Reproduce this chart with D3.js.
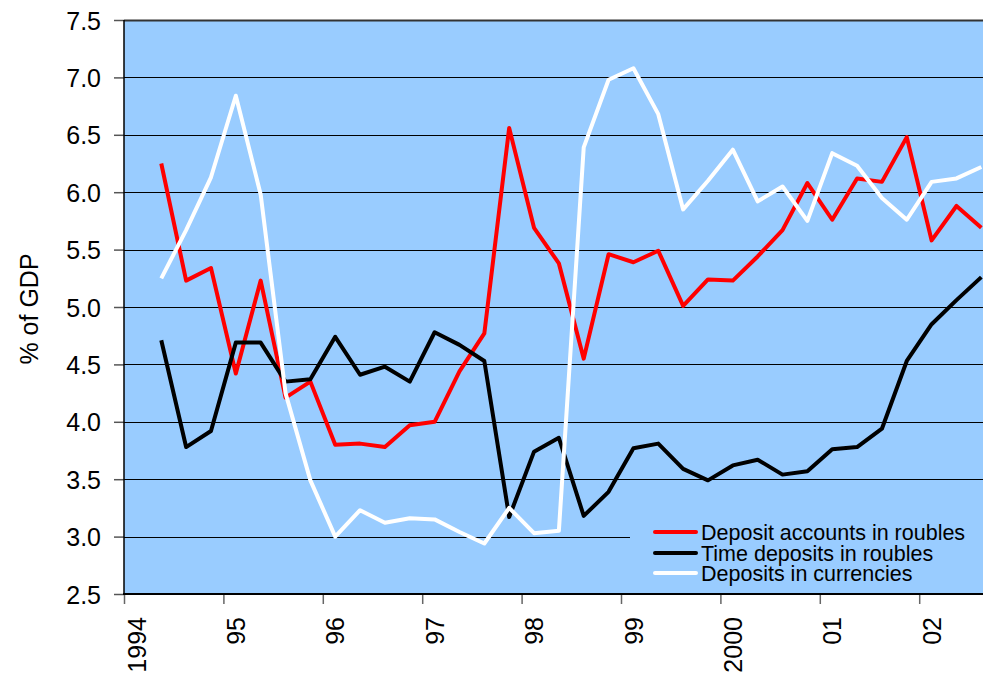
<!DOCTYPE html>
<html><head><meta charset="utf-8">
<script src="https://cdn.jsdelivr.net/npm/d3@7"></script>
<style>
body{margin:0;background:#fff}
svg{display:block}
text{font-family:"Liberation Sans",Arial,Helvetica,sans-serif;fill:#000}
</style></head><body>
<svg id="c" width="983" height="675"></svg>
<script>
// ---- data (quarterly, category index 1..34) ----
const yearLabels = ["1994","95","96","97","98","99","2000","01","02"];
const yTicks = [2.5,3.0,3.5,4.0,4.5,5.0,5.5,6.0,6.5,7.0,7.5];
const quarterIndex = d3.range(1,35);
const depositAccounts = [6.25,5.23,5.34,4.42,5.23,4.21,4.35,3.80,3.81,3.78,3.97,4.00,4.44,4.77,6.56,5.69,5.38,4.55,5.46,5.39,5.49,5.01,5.24,5.23,5.44,5.67,6.08,5.76,6.12,6.09,6.48,5.58,5.88,5.69];
const timeDeposits    = [4.71,3.78,3.92,4.69,4.69,4.35,4.37,4.74,4.41,4.48,4.35,4.78,4.67,4.53,3.17,3.74,3.86,3.18,3.39,3.77,3.81,3.59,3.49,3.62,3.67,3.54,3.57,3.76,3.78,3.94,4.53,4.85,5.06,5.26];
const currencyDeposits= [5.25,5.67,6.13,6.84,5.98,4.25,3.49,3.00,3.23,3.12,3.16,3.15,3.04,2.94,3.25,3.03,3.05,6.39,6.98,7.08,6.68,5.85,6.10,6.37,5.92,6.05,5.75,6.34,6.23,5.95,5.76,6.09,6.12,6.22];
const seriesNames = ["Deposit accounts in roubles","Time deposits in roubles","Deposits in currencies"];
const seriesColors = ["#FF0000","#000000","#FFFFFF"];
const seriesValues = [depositAccounts,timeDeposits,currencyDeposits];

(function(){
const W=983,H=675;
const pLeft=124, pTop=20, pBottom=594;
const nCats=35, catW=24.85;
const pRight=pLeft+nCats*catW;
const svg=d3.select("#c");

const x=d3.scaleLinear().domain([0,nCats]).range([pLeft,pRight]);
const y=d3.scaleLinear().domain([2.5,7.5]).range([pBottom,pTop]);

// plot background
svg.append("rect").attr("x",pLeft).attr("y",pTop).attr("width",pRight-pLeft).attr("height",pBottom-pTop).attr("fill","#99CCFF");

// gridlines
svg.append("g").selectAll("line").data(yTicks.filter(d=>d>2.5)).join("line")
  .attr("x1",pLeft).attr("x2",pRight)
  .attr("y1",d=>Math.round(y(d))+0.5).attr("y2",d=>Math.round(y(d))+0.5)
  .attr("stroke",d=>d===7.5?"#333":"#000").attr("stroke-width",d=>d===7.5?2:1);

// y axis
const yAxis=d3.axisLeft(y).tickValues(yTicks).tickFormat(d3.format(".1f")).tickSize(10).tickPadding(13);
const gy=svg.append("g").attr("transform",`translate(${pLeft},0)`).call(yAxis);
gy.select(".domain").remove();
gy.selectAll(".tick line").attr("stroke","#555").attr("stroke-width",1.5);
gy.selectAll(".tick text").attr("font-size",25).attr("font-family","Liberation Sans, Arial, sans-serif").attr("fill","#000").attr("dy","0.36em");
svg.append("line").attr("x1",pLeft).attr("x2",pLeft).attr("y1",pTop).attr("y2",pBottom+1).attr("stroke","#000").attr("stroke-width",1.5);

// x axis
const xAxis=d3.axisBottom(x).tickValues(d3.range(0,33,4)).tickFormat((d,i)=>yearLabels[i]).tickSize(10).tickPadding(0);
const gx=svg.append("g").attr("transform",`translate(0,${pBottom})`).call(xAxis);
gx.select(".domain").remove();
gx.selectAll(".tick line").attr("stroke","#666").attr("stroke-width",1.5);
gx.selectAll(".tick text").attr("font-size",25).attr("font-family","Liberation Sans, Arial, sans-serif").attr("fill","#000")
  .attr("text-anchor","end").attr("dy",null).attr("y",null)
  .attr("transform","translate(21,23) rotate(-90)");
svg.append("line").attr("x1",pLeft-1).attr("x2",W).attr("y1",pBottom).attr("y2",pBottom).attr("stroke","#000").attr("stroke-width",2);

// y title
svg.append("text").attr("transform","translate(38,309) rotate(-90)").attr("text-anchor","middle")
  .attr("font-size",25).text("% of GDP");

// legend box
const lg=svg.append("g");
lg.append("rect").attr("x",630).attr("y",515).attr("width",W-630).attr("height",pBottom-1-515).attr("fill","#99CCFF");

// lines
const line=d3.line().x((d,i)=>x(quarterIndex[i]+0.5)).y(d=>y(d));
svg.append("g").selectAll("path").data(seriesValues).join("path")
  .attr("d",d=>line(d)).attr("fill","none")
  .attr("stroke",(d,i)=>seriesColors[i]).attr("stroke-width",4).attr("stroke-linejoin","round");

// legend entries
const rows=[532,553,573];
seriesNames.forEach((n,i)=>{
  lg.append("line").attr("x1",655).attr("x2",696).attr("y1",rows[i]).attr("y2",rows[i])
    .attr("stroke",seriesColors[i]).attr("stroke-width",4).attr("stroke-linecap","round");
  lg.append("text").attr("x",701).attr("y",rows[i]).attr("dy","0.36em").attr("font-size",21.5).text(n);
});
lg.raise();
})();
</script>
</body></html>
